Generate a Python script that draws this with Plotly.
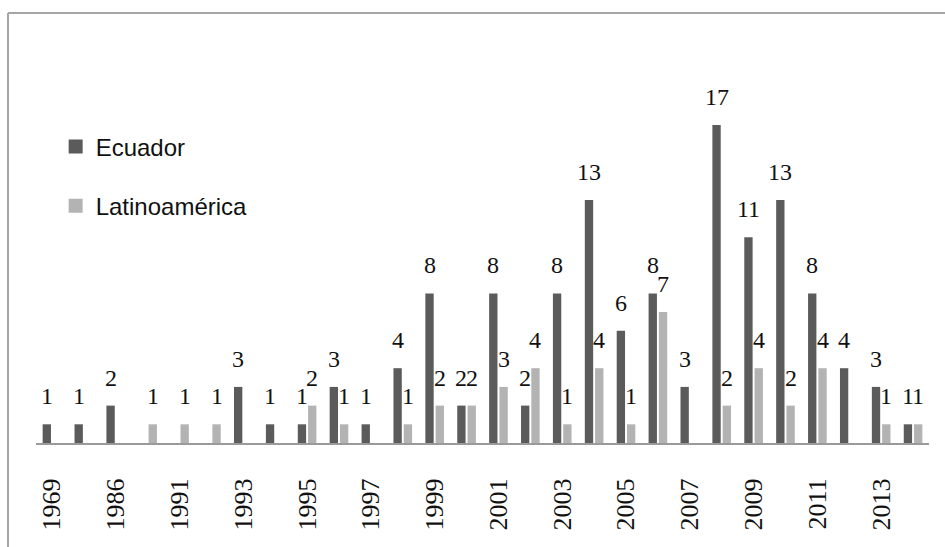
import plotly.graph_objects as go

years = ["1969", "1980", "1986", "1989", "1991", "1992", "1993", "1994", "1995", "1996",
         "1997", "1998", "1999", "2000", "2001", "2002", "2003", "2004", "2005", "2006",
         "2007", "2008", "2009", "2010", "2011", "2012", "2013", "2014"]
ecuador = [1, 1, 2, 0, 0, 0, 3, 1, 1, 3, 1, 4, 8, 2, 8, 2, 8, 13, 6, 8, 3, 17, 11, 13, 8, 4, 3, 1]
latam = [0, 0, 0, 1, 1, 1, 0, 0, 2, 1, 0, 1, 2, 2, 3, 4, 1, 4, 1, 7, 0, 2, 4, 2, 4, 0, 1, 1]
tick_years = years[::2]

W, H = 945, 547
ML, MR, MT, MB = 36, 16, 69, 104
BARGAP, GROUPGAP = 0.355, 0.19
YMAX = 20

px_per_cat = (W - ML - MR) / len(years)
half_slot = (1 - BARGAP) / 2 * px_per_cat / 2

C_EC = "#5b5b5b"
C_LA = "#b3b3b3"
SERIF = "Liberation Serif"

fig = go.Figure()
fig.add_trace(go.Bar(x=years, y=ecuador, name="Ecuador", marker_color=C_EC,
                     marker_line_width=0, hoverinfo="x+y", showlegend=False))
fig.add_trace(go.Bar(x=years, y=latam, name="Latinoamérica", marker_color=C_LA,
                     marker_line_width=0, hoverinfo="x+y", showlegend=False))
# legend entries (square swatches)
for nm, col in (("Ecuador", C_EC), ("Latinoamérica", C_LA)):
    fig.add_trace(go.Scatter(x=[None], y=[None], mode="markers", name=nm,
                             legendgroup=nm,
                             marker=dict(symbol="square", size=14, color=col)))

annotations = []
for vals, sh in ((ecuador, -half_slot), (latam, half_slot)):
    for i, v in enumerate(vals):
        if v:
            annotations.append(dict(x=i, y=v, xref="x", yref="y", text=str(v),
                                    showarrow=False, xshift=sh, yshift=13,
                                    yanchor="bottom", xanchor="center",
                                    font=dict(family=SERIF, size=24, color="#111")))

plot_h = H - MT - MB
plot_w = W - ML - MR
bx = (8 - ML) / plot_w
by = (H - MB - 13) / plot_h
shapes = [
    dict(type="line", xref="paper", yref="paper", x0=bx, x1=(W + 5 - ML) / plot_w,
         y0=by, y1=by, line=dict(color="#a6a6a6", width=2)),
    dict(type="line", xref="paper", yref="paper", x0=bx, x1=bx,
         y0=by, y1=-(MB + 5) / plot_h, line=dict(color="#a6a6a6", width=2)),
]

fig.update_layout(
    width=W, height=H,
    margin=dict(l=ML, r=MR, t=MT, b=MB),
    paper_bgcolor="white", plot_bgcolor="white",
    barmode="group", bargap=BARGAP, bargroupgap=GROUPGAP,
    showlegend=True,
    legend=dict(x=0.022, y=0.852, xanchor="left", yanchor="top",
                font=dict(family="Liberation Sans", size=24, color="#111"),
                traceorder="grouped", tracegroupgap=25, bgcolor="rgba(0,0,0,0)",
                itemsizing="trace"),
    annotations=annotations,
    shapes=shapes,
    xaxis=dict(type="category", categoryorder="array", categoryarray=years,
               range=[-0.5, len(years) - 0.5],
               tickmode="array", tickvals=tick_years, ticktext=tick_years,
               tickangle=-90, ticks="", ticklabelstandoff=23,
               tickfont=dict(family=SERIF, size=26, color="#111"),
               showline=True, linecolor="#9a9a9a", linewidth=2,
               showgrid=False, zeroline=False, fixedrange=True),
    yaxis=dict(range=[0, YMAX], visible=False, showgrid=False, zeroline=False,
               fixedrange=True),
)

fig.write_html("out.html")
